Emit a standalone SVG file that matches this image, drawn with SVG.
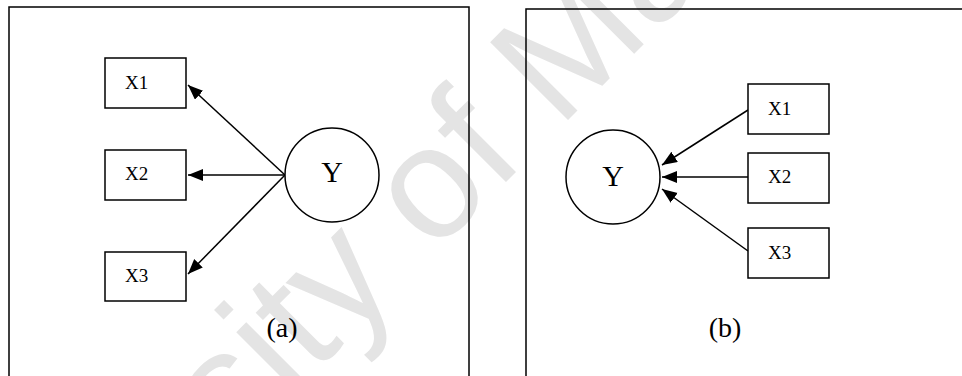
<svg xmlns="http://www.w3.org/2000/svg" width="962" height="376" viewBox="0 0 962 376">
<style>
.wm{font-family:"Liberation Sans",Arial,sans-serif;font-size:160px;fill:#e4e4e4}
.frame{fill:none;stroke:#000;stroke-width:1.5}
.box{fill:#fff;stroke:#000;stroke-width:1.5}
.circ{fill:#fff;stroke:#000;stroke-width:1.5}
.lbl{font-family:"Liberation Serif","Times New Roman",serif;font-size:19px;fill:#000}
.big{font-family:"Liberation Serif","Times New Roman",serif;font-size:30px;fill:#000;text-anchor:middle}
.cap{font-family:"Liberation Serif","Times New Roman",serif;font-size:28px;fill:#000;text-anchor:middle}
.arr{fill:none;stroke:#000;stroke-width:1.5;marker-end:url(#ah)}
</style>
<defs>
<marker id="ah" markerUnits="userSpaceOnUse" markerWidth="16" markerHeight="13" refX="15" refY="6" orient="auto">
<path d="M0,0 L15,6 L0,12 Z" fill="#000"/>
</marker>
</defs>
<rect width="962" height="376" fill="#fff"/>
<text class="wm" x="-95" y="783" transform="rotate(-45 -95 783)">University of Malaya</text>
<rect class="frame" x="9" y="7" width="460" height="400"/>
<rect class="frame" x="526" y="9" width="500" height="400"/>
<g id="connectors">
<line class="arr" x1="285" y1="175" x2="188" y2="85"/>
<line class="arr" x1="285" y1="175" x2="188" y2="175"/>
<line class="arr" x1="285" y1="175" x2="188" y2="274"/>
<line class="arr" x1="748" y1="110" x2="662" y2="165"/>
<line class="arr" x1="748" y1="177" x2="662" y2="177"/>
<line class="arr" x1="748" y1="251" x2="662" y2="189"/>
</g>
<g id="a-x1"><rect class="box" x="105" y="58" width="81" height="50"/><text class="lbl" x="125" y="89">X1</text></g>
<g id="a-x2"><rect class="box" x="105" y="150" width="81" height="50"/><text class="lbl" x="125" y="180">X2</text></g>
<g id="a-x3"><rect class="box" x="105" y="252" width="81" height="49"/><text class="lbl" x="125" y="282">X3</text></g>
<g id="a-y"><circle class="circ" cx="332" cy="175" r="47"/><text class="big" x="332" y="182">Y</text></g>
<text class="cap" x="282" y="337">(a)</text>
<g id="b-x1"><rect class="box" x="748" y="84" width="81" height="50"/><text class="lbl" x="768" y="115">X1</text></g>
<g id="b-x2"><rect class="box" x="748" y="153" width="81" height="50"/><text class="lbl" x="768" y="183">X2</text></g>
<g id="b-x3"><rect class="box" x="748" y="228" width="81" height="50"/><text class="lbl" x="768" y="259">X3</text></g>
<g id="b-y"><circle class="circ" cx="613" cy="177" r="47"/><text class="big" x="613" y="186">Y</text></g>
<text class="cap" x="725" y="337">(b)</text>
</svg>
